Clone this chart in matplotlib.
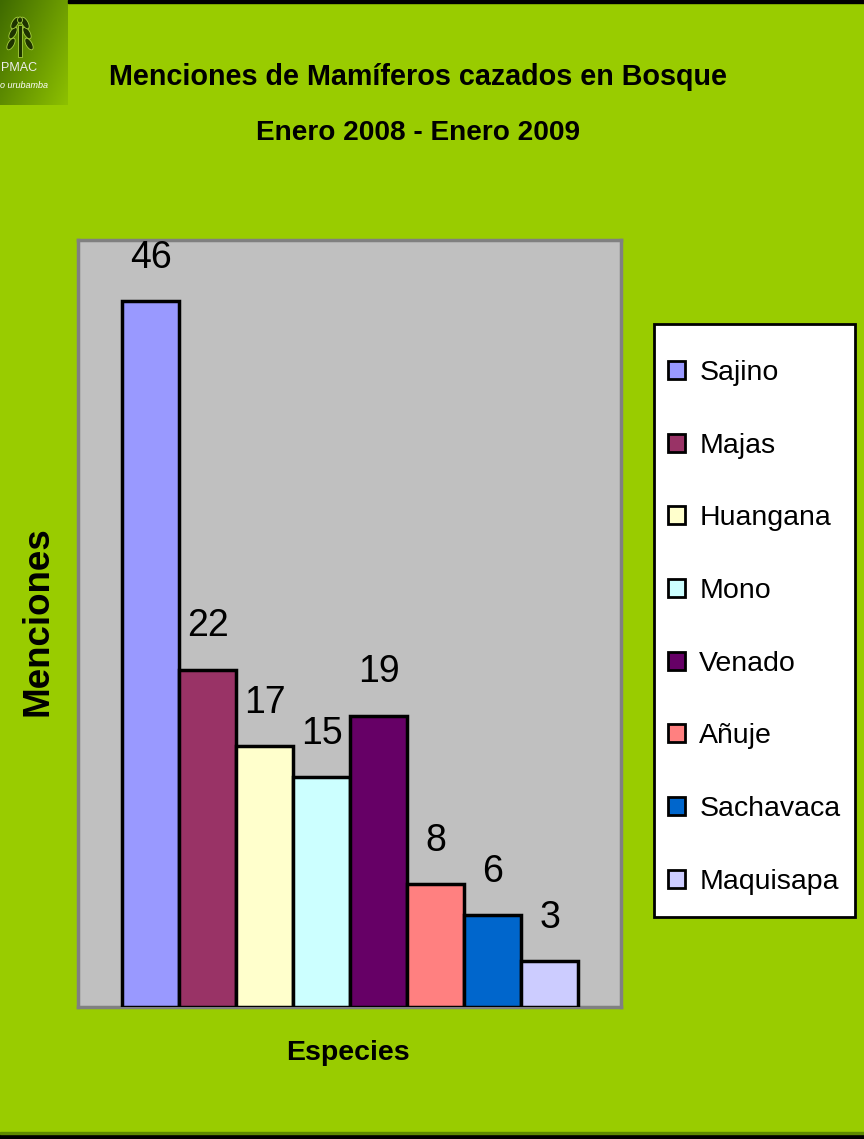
import numpy as np
import matplotlib
matplotlib.use('Agg')
import matplotlib.pyplot as plt
from matplotlib.patches import Rectangle, Ellipse

# data
species = ['Sajino', 'Majas', 'Huangana', 'Mono', 'Venado', 'Añuje', 'Sachavaca', 'Maquisapa']
menciones = [46, 22, 17, 15, 19, 8, 6, 3]
bar_colors = ['#9999FF', '#993366', '#FFFFCC', '#CCFFFF', '#660066', '#FF8080', '#0066CC', '#CCCCFF']

title_line1 = 'Menciones de Mamíferos cazados en Bosque'
title_line2 = 'Enero 2008 - Enero 2009'
x_title = 'Especies'
y_title = 'Menciones'

FONT = ['Liberation Sans', 'DejaVu Sans']

W, H = 864, 1139
fig = plt.figure(figsize=(W / 100, H / 100), dpi=100)
fig.patch.set_facecolor('#99CC00')

def fx(px):
    return px / W

def fy(py):
    return 1 - py / H

# plot area
ax = fig.add_axes([fx(78), fy(1007), fx(621) - fx(78), fy(240) - fy(1007)])
ax.set_facecolor('#C0C0C0')
for i, (name, val, col) in enumerate(zip(species, menciones, bar_colors)):
    ax.bar(i, val, width=1, align='edge', color=col, edgecolor='black', linewidth=2.5,
           label=name, zorder=3)
    ax.annotate(str(val), (i + 0.5, val), xytext=(0, 24), textcoords='offset points',
                ha='center', va='baseline', fontsize=27, family=FONT, color='black')
ax.set_xlim(-0.772, 8.754)
ax.set_ylim(0, 50)
ax.set_xticks([])
ax.set_yticks([])
for s in ax.spines.values():
    s.set_color('#808080')
    s.set_linewidth(2.5)

# legend: white box drawn separately, entries placed inside it
fig.patches.append(Rectangle((fx(654), fy(917)), fx(855) - fx(654), fy(324) - fy(917),
                             transform=fig.transFigure, facecolor='white',
                             edgecolor='black', linewidth=2, zorder=1))
handles, labels = ax.get_legend_handles_labels()
leg = fig.legend(handles, labels, loc='upper left', bbox_to_anchor=(fx(668), fy(360)),
                 borderaxespad=0, borderpad=0, frameon=False,
                 prop={'family': FONT, 'size': 20.5}, handlelength=0.6, handleheight=0.6,
                 handletextpad=0.5, labelspacing=1.64)
leg.set_zorder(2)
for h in leg.legend_handles:
    h.set_linewidth(2)

# titles
fig.text(fx(418), fy(77), title_line1, ha='center', va='center', fontsize=20.7,
         fontweight='bold', family=FONT)
fig.text(fx(418), fy(133), title_line2, ha='center', va='center', fontsize=20.2,
         fontweight='bold', family=FONT)
fig.text(fx(348), fy(1053), x_title, ha='center', va='center', fontsize=20.5,
         fontweight='bold', family=FONT)
fig.text(fx(38), fy(621), y_title, ha='center', va='center', fontsize=26.5, rotation=90,
         fontweight='bold', family=FONT)

# black bands at top and bottom of the slide
fig.patches.append(Rectangle((fx(68), fy(3)), 1 - fx(68), fy(0) - fy(3),
                             transform=fig.transFigure, color='black', zorder=5))
fig.patches.append(Rectangle((0, 0), 1, fy(1134), transform=fig.transFigure,
                             color='black', zorder=5))
fig.patches.append(Rectangle((0, fy(1134)), 1, fy(1132) - fy(1134),
                             transform=fig.transFigure, color='#5E8A00', zorder=5))

# logo in the corner
lax = fig.add_axes([0, fy(105), fx(68), fy(0) - fy(105)])
gx, gy = np.meshgrid(np.linspace(0, 1, 50), np.linspace(0, 1, 80))
grad = 0.6 * gx + 0.4 * gy
lax.imshow(grad, cmap=matplotlib.colors.LinearSegmentedColormap.from_list(
    'g', ['#3F6A00', '#8DC000']), extent=(0, 68, 105, 0), aspect='auto')
for dx, dy, ang in [(-9, 0, 30), (9, 0, -30), (-7, -11, 30), (7, -11, -30), (-5, -21, 30), (5, -21, -30)]:
    lax.add_patch(Ellipse((20 + dx, 44 + dy), 6, 13, angle=ang, facecolor='#1E3300',
                          edgecolor='#A8D040', linewidth=0.6))
lax.add_patch(Rectangle((18, 25), 4, 32, facecolor='#1E3300', edgecolor='#A8D040', linewidth=0.6))
lax.add_patch(Ellipse((20, 20), 5, 6, facecolor='#1E3300', edgecolor='#A8D040', linewidth=0.6))
lax.text(1, 68, 'PMAC', ha='left', va='center', fontsize=9, color='#EEEEEE',
         family=FONT, clip_on=True)
lax.text(0, 85, 'o urubamba', ha='left', va='center', fontsize=6.5, color='white',
         style='italic', family=FONT, clip_on=True)
lax.set_xlim(0, 68)
lax.set_ylim(105, 0)
lax.axis('off')

fig.savefig('out.png', dpi=100, facecolor=fig.get_facecolor())
